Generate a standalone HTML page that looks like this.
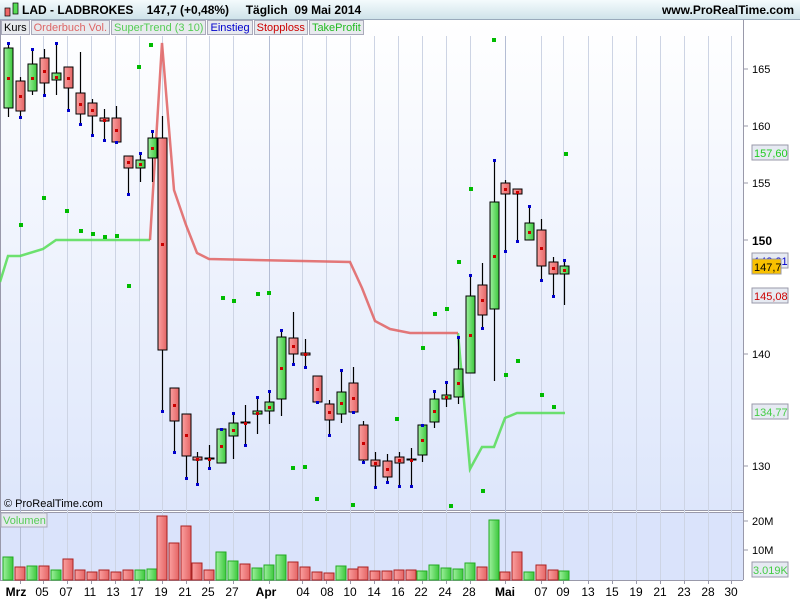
<!DOCTYPE html>
<html><head><meta charset="utf-8">
<style>
body{margin:0;width:800px;height:600px;overflow:hidden;font-family:"Liberation Sans",sans-serif;background:#fff}
#hdr{position:absolute;left:0;top:0;width:800px;height:19px;background:linear-gradient(#f4fbfd,#cfe3ea);border-bottom:1px solid #9ab;}
#hdr .t{position:absolute;left:22px;top:3px;font-weight:bold;font-size:12px}
#hdr .r{position:absolute;right:6px;top:3px;font-weight:bold;font-size:12px}
.tabs{position:absolute;left:1px;top:20px;height:15px;display:flex;font-size:11px}
.tabs span{border:1px solid #aab;background:#e8eaee;padding:0 2px;line-height:14px;margin-right:1px}
svg{position:absolute;left:0;top:0}
</style></head><body>
<svg width="800" height="600" id="s">
<defs>
<linearGradient id="bg" x1="0" y1="0" x2="0" y2="1"><stop offset="0" stop-color="#ffffff"/><stop offset="1" stop-color="#dde6fb"/></linearGradient>
<linearGradient id="gr" x1="0" x2="1"><stop offset="0" stop-color="#9ef09e"/><stop offset="1" stop-color="#3cc83c"/></linearGradient>
<linearGradient id="rd" x1="0" x2="1"><stop offset="0" stop-color="#fba0a0"/><stop offset="1" stop-color="#e46464"/></linearGradient>
</defs>
<rect x="0" y="20" width="743" height="490" fill="url(#bg)"/>
<rect x="0" y="512" width="743" height="68" fill="#dae3fb"/>
<line x1="0" y1="510.5" x2="743" y2="510.5" stroke="#99a" stroke-width="1"/>
<line x1="0" y1="512.5" x2="743" y2="512.5" stroke="#99a" stroke-width="1"/>
<line x1="0" y1="580.5" x2="743" y2="580.5" stroke="#99a" stroke-width="1"/>
<line x1="743.5" y1="20" x2="743.5" y2="580" stroke="#99a"/>
<line x1="0.5" y1="20" x2="0.5" y2="580" stroke="#99a"/>
<g id="grid"></g><g id="lines"></g><g id="c"></g><g id="v"></g><g id="d"></g>
<g font-size="11" fill="#000">
<text x="752" y="73">165</text><text x="752" y="130">160</text><text x="752" y="187">155</text>
<text x="752" y="245" font-weight="bold" font-size="12">150</text><text x="752" y="358">140</text><text x="752" y="470">130</text>
<text x="752" y="525">20M</text><text x="752" y="554">10M</text>
</g>
<g stroke="#99a"><line x1="743" y1="69" x2="748" y2="69"/><line x1="743" y1="126" x2="748" y2="126"/><line x1="743" y1="183" x2="748" y2="183"/><line x1="743" y1="240" x2="748" y2="240"/><line x1="743" y1="354" x2="748" y2="354"/><line x1="743" y1="466" x2="748" y2="466"/><line x1="743" y1="521" x2="748" y2="521"/><line x1="743" y1="550" x2="748" y2="550"/></g>
<rect x="752" y="145" width="36" height="15" fill="#e6eaf2" stroke="#99a"/><text x="754" y="157" font-size="11" fill="#2c2">157,60</text>
<rect x="752" y="253" width="36" height="15" fill="#e6eaf2" stroke="#99a"/><text x="754" y="265" font-size="11" fill="#00c">148,21</text>
<rect x="752" y="259" width="29" height="15" fill="#f8c000" stroke="#99a"/><text x="754" y="271" font-size="11">147,7</text>
<rect x="752" y="288" width="36" height="15" fill="#e6eaf2" stroke="#99a"/><text x="754" y="300" font-size="11" fill="#c00">145,08</text>
<rect x="752" y="404" width="36" height="15" fill="#e6eaf2" stroke="#99a"/><text x="754" y="416" font-size="11" fill="#4c4">134,77</text>
<rect x="752" y="562" width="36" height="15" fill="#e6eaf2" stroke="#99a"/><text x="753" y="574" font-size="11" fill="#4c4">3.019K</text>
<text x="4" y="507" font-size="11">© ProRealTime.com</text>
<rect x="1" y="513" width="46" height="14" fill="#e4e8ee" stroke="#aab"/><text x="3" y="524" font-size="11" fill="#5c5">Volumen</text>
<g font-size="12" text-anchor="middle">
<text x="16" y="596" font-weight="bold">Mrz</text><text x="42" y="596">05</text><text x="66" y="596">07</text><text x="90" y="596">11</text><text x="113" y="596">13</text><text x="137" y="596">17</text><text x="161" y="596">19</text><text x="185" y="596">21</text><text x="208" y="596">25</text><text x="232" y="596">27</text><text x="266" y="596" font-weight="bold">Apr</text><text x="303" y="596">04</text><text x="327" y="596">08</text><text x="350" y="596">10</text><text x="374" y="596">14</text><text x="398" y="596">16</text><text x="421" y="596">22</text><text x="445" y="596">24</text><text x="469" y="596">28</text><text x="505" y="596" font-weight="bold">Mai</text><text x="541" y="596">07</text><text x="563" y="596">09</text><text x="588" y="596">13</text><text x="612" y="596">15</text><text x="636" y="596">19</text><text x="660" y="596">21</text><text x="684" y="596">23</text><text x="708" y="596">28</text><text x="731" y="596">30</text>
</g>
</svg>
<div id="hdr"><span class="t">LAD - LADBROKES &nbsp;&nbsp; 147,7 (+0,48%) &nbsp;&nbsp;&nbsp; Täglich &nbsp;09 Mai 2014</span><span class="r">www.ProRealTime.com</span>
<svg width="20" height="19" style="left:2px;top:0"><rect x="3" y="8" width="5" height="8" fill="#e66" stroke="#000" stroke-width=".7"/><rect x="11" y="3" width="5" height="11" fill="#5d5" stroke="#000" stroke-width=".7"/></svg></div>
<div class="tabs"><span>Kurs</span><span style="color:#d66">Orderbuch Vol.</span><span style="color:#5c5">SuperTrend (3 10)</span><span style="color:#00c">Einstieg</span><span style="color:#c00">Stopploss</span><span style="color:#2b2">TakeProfit</span></div>
<script>
const NS="http://www.w3.org/2000/svg";
function el(p,t,a){const e=document.createElementNS(NS,t);for(const k in a)e.setAttribute(k,a[k]);document.getElementById(p).appendChild(e);return e;}
[20,43,67,91,115,139,162,186,209,233,269,302,326,350,374,398,422,446,470,505,541,563,588,612,636,660,684,708,731].forEach((x,i)=>{
 const dk=(x==20||x==269||x==505);
 el("grid","line",{x1:x+.5,y1:36,x2:x+.5,y2:580,stroke:dk?"#b4bdd4":"#cdd4e4","stroke-width":1});
 el("grid","line",{x1:x+.5,y1:580,x2:x+.5,y2:584,stroke:"#99a"});
});
const C=[[8,48,108,43,117,1],[20,81,111,77,117,0],[32,64,91,49,95,1],[44,58,83,49,95,0],[56,73,80,43,95,1],[68,67,88,67,110,0],[80,93,114,52,124,0],[92,103,116,99,135,0],[104,118,121,109,140,0],[116,118,142,106,142,0],[128,156,168,156,194,0],[140,160,168,153,182,1],[152,138,158,131,182,1],[162,138,350,116,411,0],[174,388,421,388,452,0],[186,414,456,414,478,0],[197,457,460,452,484,0],[209,458,459,445,468,0],[221,429,463,429,463,1],[233,423,436,413,459,1],[245,422,423,405,445,0],[257,411,414,397,434,1],[269,402,411,391,424,1],[281,337,399,330,416,1],[293,338,354,312,364,0],[305,353,355,339,367,0],[317,376,402,376,402,0],[329,404,420,400,435,0],[341,392,414,370,423,1],[353,383,412,367,412,0],[363,425,460,421,462,0],[375,460,466,452,487,0],[387,461,477,454,482,0],[399,457,463,452,486,0],[411,459,460,448,486,0],[422,425,455,425,462,1],[434,399,422,391,428,1],[446,395,399,382,407,1],[458,369,397,337,404,1],[470,296,373,275,373,1],[482,285,315,263,328,0],[494,202,309,160,381,1],[505,183,194,180,251,0],[517,189,194,189,241,0],[529,223,240,206,240,1],[541,230,266,219,280,0],[553,262,274,257,296,0],[564,266,274,260,305,1]];
const V=[557,567,566,566,570,559,570,572,570,572,570,570,569,516,543,526,563,570,552,561,564,568,565,555,562,567,572,573,566,569,567,571,571,570,570,571,565,568,569,563,567,520,572,552,572,565,570,571];
C.forEach((c,i)=>{
 const [x,t,b,h,l,g]=c;
 el("c","line",{x1:x+.5,y1:h,x2:x+.5,y2:l,stroke:"#000","stroke-width":1.2});
 el("c","rect",{x:x-4,y:t,width:9,height:Math.max(1,b-t),fill:g?"url(#gr)":"url(#rd)",stroke:"#000","stroke-width":1});
 el("d","rect",{x:x-1,y:Math.round((t+b)/2)-1,width:3,height:3,fill:"#c00"});
 el("d","rect",{x:x-1,y:(g?h:l)-1,width:3,height:3,fill:"#00c"});
 const vt=V[i];
 el("v","rect",{x:x-5,y:vt,width:10,height:580-vt,fill:g?"url(#gr)":"url(#rd)",stroke:g?"#2a2":"#a22","stroke-width":1});
});
el("lines","polyline",{points:"0,282 8,256 20,256 43,249 56,240 150,240",fill:"none",stroke:"#5d5","stroke-width":2.5,"stroke-opacity":.85});
el("lines","polyline",{points:"458,333 470,469 482,447 494,447 505,418 517,413 565,413",fill:"none",stroke:"#5d5","stroke-width":2.5,"stroke-opacity":.85});
el("lines","polyline",{points:"150,240 162,43 174,190 186,225 197,253 209,259 350,262 362,288 375,321 390,329 410,333 458,333",fill:"none",stroke:"#e06060","stroke-width":2.5,"stroke-opacity":.85});
[[150,44],[138,66],[20,224],[43,197],[66,210],[80,230],[92,233],[104,236],[116,235],[128,285],[222,297],[233,300],[257,293],[268,292],[304,466],[316,498],[352,504],[292,467],[470,188],[458,261],[434,313],[446,308],[422,347],[482,490],[505,374],[517,360],[541,394],[553,406],[565,153],[493,39],[396,418],[450,505]].forEach(p=>el("d","rect",{x:p[0]-1,y:p[1]-1,width:4,height:4,fill:"#0b0"}));
</script>
</body></html>
